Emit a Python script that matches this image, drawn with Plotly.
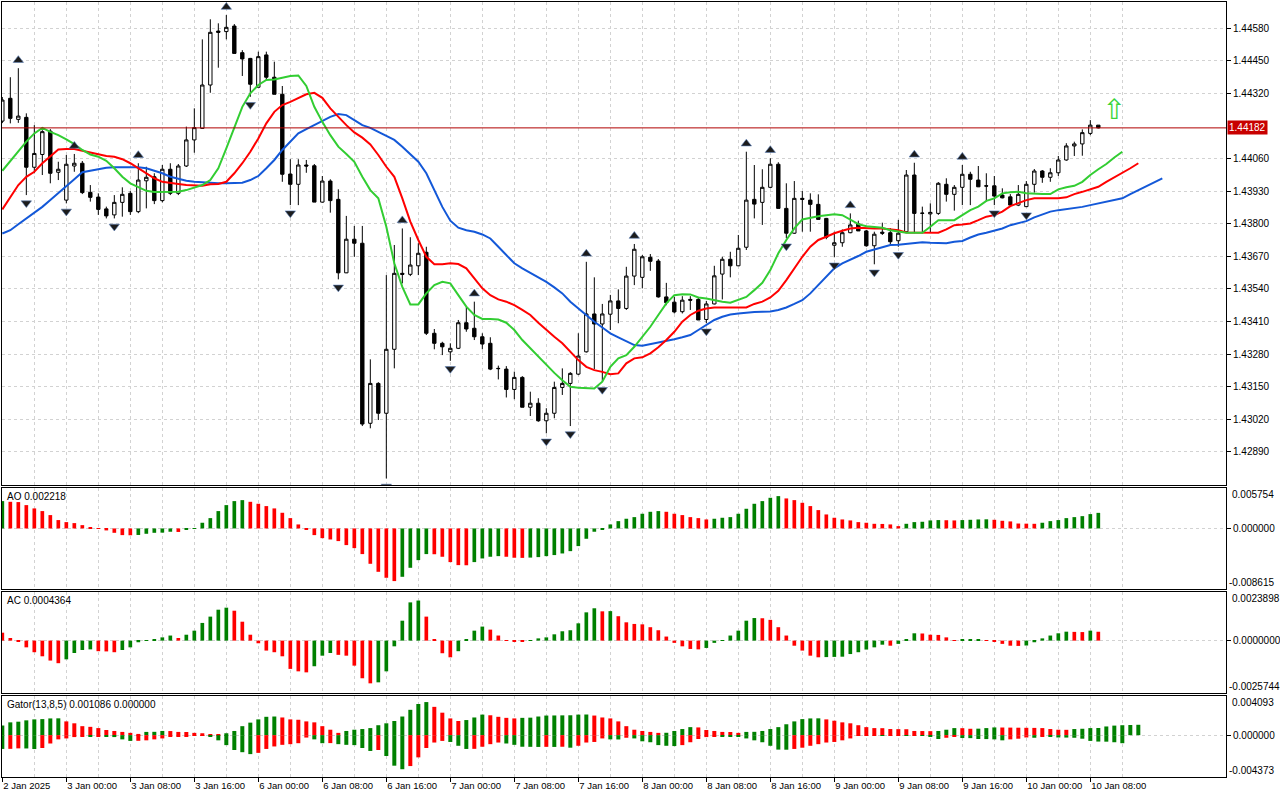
"""H1 chart with Bill Williams indicators: Alligator, Fractals, AO, AC, Gator.

One figure, four stacked panels sharing the bar axis.
    - candles + Alligator (jaw / teeth / lips) + fractal marks
    - Awesome Oscillator histogram
    - Accelerator Oscillator histogram
    - Gator oscillator (two-sided histogram)
"""
import plotly.graph_objects as go
from plotly.subplots import make_subplots

# ---- candles (bar index = position on the chart)
OPEN = [
    1.44209, 1.44300, 1.44216, 1.44224, 1.44025, 1.44076, 1.44169, 1.44005, 1.43894, 1.44030,
    1.44041, 1.43925, 1.43906, 1.43859, 1.43835, 1.43885, 1.43921, 1.43848, 1.43971, 1.43987,
    1.43892, 1.44017, 1.43921, 1.44030, 1.44134, 1.44180, 1.44353, 1.44568, 1.44566, 1.44588,
    1.44482, 1.44459, 1.44344, 1.44473, 1.44384, 1.44316, 1.43998, 1.43957, 1.44034, 1.44031,
    1.43886, 1.43970, 1.43897, 1.43604, 1.43738, 1.43722, 1.43004, 1.43163, 1.43044, 1.43299,
    1.43602, 1.43598, 1.43632, 1.43686, 1.43363, 1.43323, 1.43289, 1.43303, 1.43405, 1.43383,
    1.43349, 1.43323, 1.43223, 1.43220, 1.43139, 1.43187, 1.43068, 1.43084, 1.43014, 1.43044,
    1.43147, 1.43163, 1.43200, 1.43289, 1.43440, 1.43400, 1.43439, 1.43492, 1.43462, 1.43591,
    1.43586, 1.43666, 1.43651, 1.43508, 1.43487, 1.43449, 1.43498, 1.43498, 1.43418, 1.43480,
    1.43599, 1.43658, 1.43632, 1.43706, 1.43897, 1.43885, 1.43945, 1.44037, 1.43861, 1.43762,
    1.43901, 1.43894, 1.43877, 1.43821, 1.43714, 1.43724, 1.43764, 1.43799, 1.43771, 1.43712,
    1.43766, 1.43764, 1.43732, 1.43768, 1.43994, 1.43841, 1.43839, 1.43841, 1.43957, 1.43917,
    1.43945, 1.43997, 1.43974, 1.43951, 1.43951, 1.43914, 1.43907, 1.43874, 1.43868, 1.43957,
    1.44010, 1.43985, 1.44003, 1.44054, 1.44110, 1.44118, 1.44160, 1.44193,
]
HIGH = [
    1.44305, 1.44384, 1.44420, 1.44240, 1.44193, 1.44173, 1.44177, 1.44047, 1.44074, 1.44078,
    1.44050, 1.43954, 1.43921, 1.43868, 1.43914, 1.43945, 1.43930, 1.44041, 1.44027, 1.44001,
    1.44034, 1.44041, 1.44038, 1.44187, 1.44260, 1.44535, 1.44615, 1.44599, 1.44632, 1.44596,
    1.44492, 1.44461, 1.44486, 1.44486, 1.44446, 1.44349, 1.44057, 1.44057, 1.44054, 1.44038,
    1.43990, 1.43977, 1.43937, 1.43831, 1.43791, 1.43791, 1.43259, 1.43168, 1.43595, 1.43715,
    1.43781, 1.43746, 1.43722, 1.43708, 1.43380, 1.43329, 1.43323, 1.43416, 1.43469, 1.43489,
    1.43363, 1.43347, 1.43234, 1.43232, 1.43210, 1.43192, 1.43130, 1.43104, 1.43064, 1.43170,
    1.43223, 1.43208, 1.43363, 1.43648, 1.43586, 1.43480, 1.43516, 1.43538, 1.43628, 1.43719,
    1.43675, 1.43679, 1.43659, 1.43564, 1.43508, 1.43511, 1.43511, 1.43508, 1.43492, 1.43632,
    1.43668, 1.43688, 1.43755, 1.44087, 1.44034, 1.44017, 1.44061, 1.44045, 1.43961, 1.43970,
    1.43930, 1.43921, 1.43917, 1.43823, 1.43768, 1.43777, 1.43841, 1.43812, 1.43775, 1.43768,
    1.43804, 1.43782, 1.43815, 1.44014, 1.44043, 1.43868, 1.43881, 1.43966, 1.43981, 1.43954,
    1.44034, 1.44007, 1.44030, 1.44001, 1.43990, 1.43941, 1.43918, 1.43954, 1.43970, 1.44018,
    1.44014, 1.44021, 1.44070, 1.44121, 1.44127, 1.44176, 1.44213, 1.44193,
]
LOW = [
    1.44201, 1.44200, 1.44202, 1.43914, 1.44001, 1.43994, 1.43961, 1.43974, 1.43881, 1.44007,
    1.43918, 1.43888, 1.43835, 1.43821, 1.43821, 1.43828, 1.43835, 1.43842, 1.43861, 1.43878,
    1.43885, 1.43914, 1.43914, 1.44026, 1.44083, 1.44178, 1.44322, 1.44422, 1.44535, 1.44479,
    1.44389, 1.44306, 1.44344, 1.44373, 1.44316, 1.43967, 1.43874, 1.43874, 1.44003, 1.43886,
    1.43884, 1.43844, 1.43578, 1.43603, 1.43668, 1.42993, 1.42984, 1.43017, 1.42784, 1.43223,
    1.43562, 1.43591, 1.43595, 1.43356, 1.43299, 1.43276, 1.43253, 1.43300, 1.43369, 1.43336,
    1.43299, 1.43216, 1.43179, 1.43107, 1.43100, 1.43068, 1.43033, 1.43010, 1.42964, 1.43024,
    1.43117, 1.42993, 1.43196, 1.43286, 1.43220, 1.43170, 1.43376, 1.43403, 1.43456, 1.43555,
    1.43542, 1.43612, 1.43505, 1.43475, 1.43442, 1.43442, 1.43456, 1.43416, 1.43403, 1.43478,
    1.43498, 1.43586, 1.43631, 1.43695, 1.43821, 1.43795, 1.43942, 1.43861, 1.43742, 1.43759,
    1.43768, 1.43768, 1.43817, 1.43738, 1.43666, 1.43708, 1.43762, 1.43771, 1.43708, 1.43638,
    1.43755, 1.43715, 1.43708, 1.43767, 1.43762, 1.43762, 1.43763, 1.43835, 1.43888, 1.43852,
    1.43874, 1.43874, 1.43946, 1.43888, 1.43874, 1.43901, 1.43870, 1.43870, 1.43866, 1.43924,
    1.43963, 1.43967, 1.43990, 1.44051, 1.44070, 1.44071, 1.44153, 1.44180,
]
CLOSE = [
    1.44293, 1.44220, 1.44229, 1.44025, 1.44080, 1.44167, 1.44001, 1.44017, 1.44037, 1.44041,
    1.43924, 1.43905, 1.43857, 1.43831, 1.43885, 1.43917, 1.43848, 1.43974, 1.43985, 1.43892,
    1.44017, 1.43921, 1.44030, 1.44134, 1.44183, 1.44353, 1.44563, 1.44563, 1.44583, 1.44479,
    1.44457, 1.44356, 1.44466, 1.44384, 1.44316, 1.43997, 1.43957, 1.44034, 1.44030, 1.43886,
    1.43970, 1.43892, 1.43604, 1.43738, 1.43722, 1.43001, 1.43163, 1.43044, 1.43299, 1.43602,
    1.43598, 1.43635, 1.43682, 1.43363, 1.43323, 1.43309, 1.43303, 1.43405, 1.43380, 1.43349,
    1.43320, 1.43220, 1.43222, 1.43139, 1.43187, 1.43068, 1.43084, 1.43014, 1.43044, 1.43147,
    1.43163, 1.43203, 1.43272, 1.43440, 1.43400, 1.43440, 1.43492, 1.43462, 1.43591, 1.43698,
    1.43668, 1.43650, 1.43508, 1.43485, 1.43448, 1.43495, 1.43495, 1.43416, 1.43480, 1.43592,
    1.43658, 1.43632, 1.43702, 1.43894, 1.43878, 1.43945, 1.44037, 1.43861, 1.43762, 1.43901,
    1.43897, 1.43877, 1.43817, 1.43746, 1.43724, 1.43764, 1.43795, 1.43771, 1.43712, 1.43758,
    1.43762, 1.43728, 1.43762, 1.43994, 1.43841, 1.43842, 1.43845, 1.43961, 1.43917, 1.43945,
    1.43997, 1.43977, 1.43947, 1.43950, 1.43910, 1.43903, 1.43874, 1.43917, 1.43957, 1.44010,
    1.43985, 1.44003, 1.44054, 1.44110, 1.44118, 1.44163, 1.44193, 1.44182,
]

# ---- Alligator lines, already shifted forward (lips +3, teeth +5, jaw +8 bars)
LIPS = [
    1.44011, 1.44050, 1.44087, 1.44127, 1.44160, 1.44182, 1.44166, 1.44153, 1.44136, 1.44117,
    1.44094, 1.44076, 1.44067, 1.44051, 1.44021, 1.43987, 1.43961, 1.43945, 1.43931, 1.43926,
    1.43926, 1.43927, 1.43927, 1.43934, 1.43945, 1.43954, 1.43974, 1.44021, 1.44100, 1.44186,
    1.44266, 1.44320, 1.44353, 1.44373, 1.44375, 1.44382, 1.44389, 1.44391, 1.44349, 1.44266,
    1.44206, 1.44153, 1.44107, 1.44078, 1.44047, 1.43987, 1.43934, 1.43901, 1.43788, 1.43642,
    1.43548, 1.43478, 1.43478, 1.43522, 1.43555, 1.43568, 1.43562, 1.43515, 1.43469, 1.43436,
    1.43420, 1.43420, 1.43418, 1.43405, 1.43376, 1.43336, 1.43303, 1.43269, 1.43236, 1.43205,
    1.43176, 1.43150, 1.43146, 1.43146, 1.43143, 1.43170, 1.43229, 1.43263, 1.43276, 1.43309,
    1.43347, 1.43389, 1.43436, 1.43482, 1.43515, 1.43519, 1.43518, 1.43506, 1.43502, 1.43495,
    1.43489, 1.43485, 1.43495, 1.43508, 1.43535, 1.43564, 1.43615, 1.43682, 1.43735, 1.43781,
    1.43817, 1.43825, 1.43830, 1.43834, 1.43838, 1.43834, 1.43817, 1.43798, 1.43790, 1.43788,
    1.43784, 1.43774, 1.43768, 1.43764, 1.43764, 1.43764, 1.43788, 1.43814, 1.43814, 1.43814,
    1.43834, 1.43854, 1.43868, 1.43891, 1.43901, 1.43921, 1.43925, 1.43927, 1.43921, 1.43918,
    1.43918, 1.43918, 1.43937, 1.43945, 1.43951, 1.43967, 1.43994, 1.44017, 1.44038, 1.44064,
    1.44087,
]
TEETH = [
    1.43857, 1.43907, 1.43954, 1.43987, 1.44007, 1.44041, 1.44070, 1.44096, 1.44098, 1.44098,
    1.44091, 1.44084, 1.44078, 1.44070, 1.44067, 1.44057, 1.44041, 1.44021, 1.44001, 1.43981,
    1.43967, 1.43961, 1.43958, 1.43954, 1.43951, 1.43951, 1.43957, 1.43958, 1.43967, 1.44001,
    1.44041, 1.44087, 1.44140, 1.44200, 1.44246, 1.44273, 1.44286, 1.44300, 1.44316, 1.44322,
    1.44302, 1.44260, 1.44226, 1.44193, 1.44164, 1.44143, 1.44116, 1.44074, 1.44027, 1.43987,
    1.43901, 1.43808, 1.43735, 1.43668, 1.43638, 1.43638, 1.43642, 1.43639, 1.43622, 1.43582,
    1.43542, 1.43515, 1.43498, 1.43489, 1.43475, 1.43456, 1.43436, 1.43405, 1.43376, 1.43349,
    1.43323, 1.43289, 1.43256, 1.43229, 1.43216, 1.43209, 1.43200, 1.43203, 1.43243, 1.43263,
    1.43267, 1.43283, 1.43307, 1.43336, 1.43369, 1.43409, 1.43436, 1.43453, 1.43462, 1.43466,
    1.43466, 1.43467, 1.43466, 1.43466, 1.43480, 1.43489, 1.43506, 1.43532, 1.43575, 1.43622,
    1.43668, 1.43708, 1.43735, 1.43748, 1.43762, 1.43772, 1.43781, 1.43784, 1.43781, 1.43781,
    1.43781, 1.43777, 1.43774, 1.43765, 1.43764, 1.43764, 1.43764, 1.43764, 1.43777, 1.43794,
    1.43797, 1.43801, 1.43814, 1.43828, 1.43834, 1.43848, 1.43870, 1.43883, 1.43894, 1.43901,
    1.43901, 1.43901, 1.43901, 1.43905, 1.43918, 1.43927, 1.43937, 1.43947, 1.43967, 1.43985,
    1.44001, 1.44021, 1.44041,
]
JAW = [
    1.43761, 1.43774, 1.43798, 1.43821, 1.43843, 1.43867, 1.43894, 1.43921, 1.43947, 1.43977,
    1.44005, 1.44011, 1.44018, 1.44023, 1.44025, 1.44025, 1.44025, 1.44025, 1.44021, 1.44011,
    1.44001, 1.43987, 1.43978, 1.43971, 1.43967, 1.43965, 1.43961, 1.43961, 1.43961, 1.43962,
    1.43963, 1.43974, 1.43990, 1.44021, 1.44054, 1.44094, 1.44127, 1.44160, 1.44177, 1.44193,
    1.44210, 1.44226, 1.44237, 1.44233, 1.44213, 1.44193, 1.44182, 1.44166, 1.44147, 1.44134,
    1.44107, 1.44078, 1.44047, 1.44001, 1.43934, 1.43867, 1.43812, 1.43784, 1.43774, 1.43768,
    1.43757, 1.43741, 1.43708, 1.43675, 1.43642, 1.43622, 1.43604, 1.43588, 1.43568, 1.43546,
    1.43522, 1.43489, 1.43462, 1.43436, 1.43409, 1.43386, 1.43363, 1.43347, 1.43333, 1.43316,
    1.43313, 1.43319, 1.43327, 1.43332, 1.43339, 1.43347, 1.43356, 1.43376, 1.43396, 1.43416,
    1.43429, 1.43438, 1.43442, 1.43446, 1.43448, 1.43449, 1.43450, 1.43456, 1.43466, 1.43480,
    1.43495, 1.43522, 1.43555, 1.43588, 1.43622, 1.43642, 1.43655, 1.43671, 1.43688, 1.43698,
    1.43708, 1.43715, 1.43716, 1.43719, 1.43722, 1.43726, 1.43724, 1.43722, 1.43722, 1.43728,
    1.43731, 1.43745, 1.43757, 1.43764, 1.43772, 1.43781, 1.43794, 1.43801, 1.43810, 1.43825,
    1.43837, 1.43848, 1.43854, 1.43858, 1.43861, 1.43867, 1.43874, 1.43881, 1.43888, 1.43894,
    1.43901, 1.43918, 1.43934, 1.43947, 1.43963, 1.43981,
]

# ---- fractal bars
FRACTAL_UP = [2, 9, 17, 28, 50, 59, 73, 79, 93, 96, 106, 114, 120]
FRACTAL_DOWN = [3, 8, 14, 31, 36, 42, 48, 56, 68, 71, 75, 88, 98, 104, 109, 112, 124, 128]

# ---- signal arrow object
SIGNAL_BAR = 139
SIGNAL_PRICE = 1.44245

# ---- oscillators
AO = [
    0.00389, 0.00379, 0.00375, 0.00332, 0.00285, 0.00247, 0.00190, 0.00119, 0.00090, 0.00076,
    0.00047, 0.00019, 0.00005, -0.00028, -0.00062, -0.00095, -0.00097, -0.00093, -0.00076, -0.00062,
    -0.00060, -0.00047, -0.00050, -0.00014, -0.00005, 0.00081, 0.00147, 0.00247, 0.00332, 0.00389,
    0.00403, 0.00379, 0.00351, 0.00318, 0.00285, 0.00223, 0.00147, 0.00057, -0.00019, -0.00095,
    -0.00138, -0.00157, -0.00180, -0.00237, -0.00280, -0.00365, -0.00503, -0.00617, -0.00702, -0.00749,
    -0.00688, -0.00560, -0.00451, -0.00365, -0.00367, -0.00403, -0.00479, -0.00522, -0.00524, -0.00479,
    -0.00427, -0.00403, -0.00394, -0.00403, -0.00417, -0.00419, -0.00415, -0.00408, -0.00394, -0.00379,
    -0.00356, -0.00323, -0.00251, -0.00147, -0.00047, -0.00010, 0.00057, 0.00104, 0.00138, 0.00161,
    0.00209, 0.00237, 0.00247, 0.00237, 0.00209, 0.00190, 0.00161, 0.00147, 0.00128, 0.00138,
    0.00152, 0.00161, 0.00209, 0.00280, 0.00351, 0.00389, 0.00436, 0.00460, 0.00427, 0.00403,
    0.00365, 0.00318, 0.00261, 0.00199, 0.00152, 0.00128, 0.00114, 0.00090, 0.00081, 0.00066,
    0.00064, 0.00057, 0.00033, 0.00066, 0.00090, 0.00095, 0.00114, 0.00119, 0.00117, 0.00114,
    0.00119, 0.00123, 0.00128, 0.00130, 0.00123, 0.00109, 0.00100, 0.00070, 0.00068, 0.00066,
    0.00081, 0.00104, 0.00119, 0.00147, 0.00161, 0.00175, 0.00204, 0.002218,
]
AC = [
    0.00039, 0.00013, -0.00003, -0.00033, -0.00057, -0.00077, -0.00098, -0.00111, -0.00092, -0.00061,
    -0.00046, -0.00043, -0.00052, -0.00053, -0.00057, -0.00046, -0.00033, -0.00008, 0.00003, 0.00008,
    0.00016, 0.00025, 0.00013, 0.00029, 0.00049, 0.00087, 0.00118, 0.00152, 0.00162, 0.00147,
    0.00093, 0.00029, -0.00013, -0.00049, -0.00057, -0.00077, -0.00139, -0.00151, -0.00156, -0.00126,
    -0.00074, -0.00061, -0.00070, -0.00074, -0.00123, -0.00185, -0.00210, -0.00205, -0.00151, -0.00028,
    0.00098, 0.00188, 0.00197, 0.00118, 0.00008, -0.00062, -0.00082, -0.00052, 0.00008, 0.00049,
    0.00069, 0.00054, 0.00025, 0.00003, -0.00002, -0.00005, 0.00002, 0.00011, 0.00016, 0.00031,
    0.00046, 0.00051, 0.00085, 0.00139, 0.00159, 0.00144, 0.00145, 0.00120, 0.00090, 0.00082,
    0.00080, 0.00066, 0.00051, 0.00020, -0.00011, -0.00028, -0.00041, -0.00043, -0.00036, -0.00011,
    0.00003, 0.00025, 0.00049, 0.00098, 0.00111, 0.00110, 0.00102, 0.00066, 0.00025, -0.00025,
    -0.00049, -0.00074, -0.00082, -0.00081, -0.00080, -0.00079, -0.00066, -0.00057, -0.00044, -0.00033,
    -0.00020, -0.00025, -0.00016, 0.00005, 0.00036, 0.00035, 0.00029, 0.00028, 0.00016, 0.00001,
    0.00005, 0.00006, 0.00008, 0.00001, -0.00003, -0.00016, -0.00025, -0.00026, -0.00024, -0.00008,
    0.00011, 0.00025, 0.00036, 0.00044, 0.00043, 0.00042, 0.00049, 0.0004364,
]
GATOR_UP = [
    0.00101, 0.00134, 0.00141, 0.00155, 0.00165, 0.00168, 0.00175, 0.00176, 0.00144, 0.00124,
    0.00094, 0.00087, 0.00074, 0.00054, 0.00044, 0.00034, 0.00024, 0.00013, 0.00034, 0.00035,
    0.00044, 0.00043, 0.00034, 0.00033, 0.00024, 0.00020, 0.00010, 0.00009, 0.00020, 0.00044,
    0.00094, 0.00131, 0.00165, 0.00192, 0.00195, 0.00185, 0.00165, 0.00161, 0.00144, 0.00134,
    0.00094, 0.00057, 0.00024, 0.00044, 0.00057, 0.00064, 0.00074, 0.00104, 0.00124, 0.00148,
    0.00195, 0.00265, 0.00326, 0.00346, 0.00296, 0.00235, 0.00175, 0.00148, 0.00158, 0.00185,
    0.00215, 0.00208, 0.00192, 0.00181, 0.00175, 0.00181, 0.00183, 0.00195, 0.00205, 0.00206,
    0.00207, 0.00208, 0.00215, 0.00216, 0.00205, 0.00185, 0.00175, 0.00144, 0.00094, 0.00057,
    0.00044, 0.00034, 0.00024, 0.00025, 0.00044, 0.00064, 0.00084, 0.00081, 0.00054, 0.00044,
    0.00034, 0.00033, 0.00024, 0.00034, 0.00035, 0.00044, 0.00064, 0.00084, 0.00114, 0.00144,
    0.00168, 0.00175, 0.00176, 0.00165, 0.00151, 0.00134, 0.00124, 0.00104, 0.00084, 0.00074,
    0.00073, 0.00064, 0.00063, 0.00062, 0.00044, 0.00043, 0.00042, 0.00044, 0.00057, 0.00074,
    0.00073, 0.00067, 0.00068, 0.00074, 0.00081, 0.00080, 0.00079, 0.00078, 0.00077, 0.00076,
    0.00074, 0.00064, 0.00057, 0.00056, 0.00064, 0.00067, 0.00074, 0.00075, 0.00091, 0.00100,
    0.00104, 0.00106, 0.001086,
]
GATOR_DOWN = [
    -0.00144, -0.00143, -0.00138, -0.00139, -0.00145, -0.00134, -0.00087, -0.00044, -0.00034, -0.00020,
    -0.00013, -0.00015, -0.00010, -0.00012, -0.00020, -0.00044, -0.00060, -0.00059, -0.00054, -0.00044,
    -0.00034, -0.00017, -0.00010, -0.00009, -0.00008, -0.00007, -0.00013, -0.00054, -0.00104, -0.00155,
    -0.00178, -0.00198, -0.00185, -0.00144, -0.00118, -0.00101, -0.00094, -0.00084, -0.00025, -0.00044,
    -0.00084, -0.00083, -0.00094, -0.00101, -0.00104, -0.00134, -0.00165, -0.00155, -0.00218, -0.00319,
    -0.00356, -0.00323, -0.00232, -0.00134, -0.00077, -0.00060, -0.00071, -0.00111, -0.00144, -0.00143,
    -0.00121, -0.00094, -0.00077, -0.00087, -0.00101, -0.00121, -0.00122, -0.00123, -0.00122, -0.00123,
    -0.00121, -0.00131, -0.00111, -0.00077, -0.00071, -0.00034, -0.00044, -0.00045, -0.00027, -0.00034,
    -0.00064, -0.00074, -0.00104, -0.00111, -0.00114, -0.00104, -0.00074, -0.00040, -0.00020, -0.00013,
    -0.00014, -0.00015, -0.00016, -0.00034, -0.00054, -0.00074, -0.00111, -0.00151, -0.00152, -0.00144,
    -0.00131, -0.00111, -0.00094, -0.00077, -0.00071, -0.00054, -0.00034, -0.00003, -0.00002, -0.00001,
    -0.00003, -0.00002, -0.00001, -0.00002, -0.00001, -0.00002, -0.00013, -0.00040, -0.00027, -0.00017,
    -0.00030, -0.00031, -0.00040, -0.00041, -0.00044, -0.00054, -0.00044, -0.00037, -0.00024, -0.00027,
    -0.00017, -0.00018, -0.00024, -0.00025, -0.00027, -0.00037, -0.00060, -0.00067, -0.00068, -0.00074,
    -0.00084, 0.0, 0.0,
]

# ---- axes
PRICE_TICKS = [1.4458, 1.4445, 1.4432, 1.4406, 1.4393, 1.4380, 1.4367,
               1.4354, 1.4341, 1.4328, 1.4315, 1.4302, 1.4289]
PRICE_RANGE = [1.42758, 1.44684]
AO_RANGE = [-0.008615, 0.005754]
AC_RANGE = [-0.0025744, 0.0023898]
GATOR_RANGE = [-0.004373, 0.004093]
DATE_LABELS = [
    "2 Jan 2025", "3 Jan 00:00", "3 Jan 08:00", "3 Jan 16:00", "6 Jan 00:00",
    "6 Jan 08:00", "6 Jan 16:00", "7 Jan 00:00", "7 Jan 08:00", "7 Jan 16:00",
    "8 Jan 00:00", "8 Jan 08:00", "8 Jan 16:00", "9 Jan 00:00", "9 Jan 08:00",
    "9 Jan 16:00", "10 Jan 00:00", "10 Jan 08:00",
]
BARS_PER_LABEL = 8
X_RANGE = [-0.04, 152.96]

GREEN = "#008000"
RED = "#ff0000"
GRID = "#d2d2d2"
FONT = "Liberation Sans, Arial, sans-serif"


def _bar_colors(values, first_up, magnitude=False):
    """Green while the bar grows, red while it shrinks (MT histogram rule)."""
    colors, up = [], first_up
    for i, v in enumerate(values):
        if i:
            cur, prev = v, values[i - 1]
            if magnitude:
                cur, prev = abs(cur), abs(prev)
            if cur > prev:
                up = True
            elif cur < prev:
                up = False
        colors.append(GREEN if up else RED)
    return colors


def _add_price(fig: go.Figure) -> None:
    bars = list(range(len(CLOSE)))
    fig.add_trace(go.Candlestick(
        x=bars, open=OPEN, high=HIGH, low=LOW, close=CLOSE,
        increasing=dict(line=dict(color="black", width=1), fillcolor="white"),
        decreasing=dict(line=dict(color="black", width=1), fillcolor="black"),
        whiskerwidth=0, hoverinfo="skip",
    ), row=1, col=1)
    for values, color in ((JAW, "#1358d8"), (TEETH, "#ff0000"), (LIPS, "#32cd32")):
        fig.add_trace(go.Scatter(
            x=list(range(len(values))), y=values, mode="lines",
            line=dict(color=color, width=2), hoverinfo="skip",
        ), row=1, col=1)

    pad = 0.00032
    fig.add_trace(go.Scatter(
        x=FRACTAL_UP, y=[HIGH[i] + pad for i in FRACTAL_UP], mode="markers",
        marker=dict(symbol="triangle-up", size=9, color="#1c1c1c",
                    line=dict(color="#5a7fb8", width=0.6)),
        hoverinfo="skip",
    ), row=1, col=1)
    fig.add_trace(go.Scatter(
        x=FRACTAL_DOWN, y=[LOW[i] - pad for i in FRACTAL_DOWN], mode="markers",
        marker=dict(symbol="triangle-down", size=9, color="#1c1c1c",
                    line=dict(color="#5a7fb8", width=0.6)),
        hoverinfo="skip",
    ), row=1, col=1)

    fig.add_trace(go.Scatter(
        x=[SIGNAL_BAR], y=[SIGNAL_PRICE], mode="text", text=["\u21e7"],
        textfont=dict(size=28, color="#3ad43a", family="DejaVu Sans"),
        hoverinfo="skip",
    ), row=1, col=1)

    last = CLOSE[-1]
    fig.add_hline(y=last, line=dict(color="#b00000", width=1), row=1, col=1)
    fig.add_annotation(
        x=1, xref="paper", xanchor="left", xshift=1, y=last, yref="y",
        text=f"{last:.5f}", showarrow=False, bgcolor="#c80000",
        font=dict(color="white", size=10, family=FONT), borderpad=1,
    )


def _add_histogram(fig, row, values, colors, width=0.46):
    fig.add_trace(go.Bar(
        x=list(range(len(values))), y=values, width=width,
        marker=dict(color=colors, line=dict(width=0)), hoverinfo="skip",
    ), row=row, col=1)


def _panel_labels(fig, yname, title, vrange, decimals):
    dom = f"{yname} domain"
    fig.add_annotation(x=0, xref="paper", xanchor="left", xshift=3,
                       y=1, yref=dom, yanchor="top", yshift=-1,
                       text=title, showarrow=False, font=dict(size=10))
    fig.add_annotation(x=1, xref="paper", xanchor="left", xshift=4,
                       y=1, yref=dom, yanchor="top", yshift=1,
                       text=f"{vrange[1]:.{decimals}f}", showarrow=False,
                       font=dict(size=10))
    fig.add_annotation(x=1, xref="paper", xanchor="left", xshift=1,
                       y=0, yref=dom, yanchor="bottom", yshift=-1,
                       text=f"{vrange[0]:.{decimals}f}", showarrow=False,
                       font=dict(size=10))


def build() -> go.Figure:
    fig = make_subplots(rows=4, cols=1, shared_xaxes=True, vertical_spacing=0.004)
    _add_price(fig)

    _add_histogram(fig, 2, AO, _bar_colors(AO, True))
    _add_histogram(fig, 3, AC, _bar_colors(AC, False))
    _add_histogram(fig, 4, GATOR_UP, _bar_colors(GATOR_UP, True), width=0.5)
    _add_histogram(fig, 4, GATOR_DOWN,
                   _bar_colors(GATOR_DOWN, True, magnitude=True), width=0.5)

    _panel_labels(fig, "y2", f"AO {AO[-1]:.6f}", AO_RANGE, 6)
    _panel_labels(fig, "y3", f"AC {AC[-1]:.7f}", AC_RANGE, 7)
    _panel_labels(fig, "y4",
                  f"Gator(13,8,5) {GATOR_UP[-1]:.6f} {abs(GATOR_DOWN[-1]):.6f}",
                  GATOR_RANGE, 6)

    label_pos = [i * BARS_PER_LABEL for i in range(len(DATE_LABELS))]
    frame = dict(showline=True, mirror=True, linecolor="black", linewidth=1,
                 zeroline=False, automargin=False)
    fig.update_xaxes(
        range=X_RANGE, tickvals=label_pos, ticktext=DATE_LABELS, tickangle=0,
        showgrid=True, gridcolor=GRID, griddash="3px,3px", gridwidth=1,
        minor=dict(tickvals=[p + BARS_PER_LABEL // 2 for p in label_pos],
                   showgrid=True, gridcolor=GRID, griddash="3px,3px"),
        rangeslider_visible=False, **frame,
    )
    fig.update_xaxes(row=4, col=1, showticklabels=True, ticks="outside",
                     ticklen=4, tickcolor="black",
                     ticklabelposition="outside right",
                     tickfont=dict(size=9.5))

    yfmt = dict(side="right", ticks="outside", ticklen=4, tickcolor="black",
                showgrid=True, gridcolor=GRID, griddash="3px,3px",
                tickfont=dict(size=10), **frame)
    fig.update_layout(
        yaxis=dict(domain=[0.3768, 1.0], range=PRICE_RANGE, tickvals=PRICE_TICKS,
                   ticktext=[f"{p:.5f}" for p in PRICE_TICKS], **yfmt),
        yaxis2=dict(domain=[0.2426, 0.3729], range=AO_RANGE, tickvals=[0],
                    ticktext=[f"{0:.6f}"], **yfmt),
        yaxis3=dict(domain=[0.1084, 0.2387], range=AC_RANGE, tickvals=[0],
                    ticktext=[f"{0:.7f}"], **yfmt),
        yaxis4=dict(domain=[0.0, 0.1045], range=GATOR_RANGE, tickvals=[0],
                    ticktext=[f"{0:.6f}"], **yfmt),
        width=1280, height=800,
        margin=dict(l=2, r=54, t=2, b=23, autoexpand=False),
        paper_bgcolor="white", plot_bgcolor="white",
        showlegend=False, barmode="overlay", boxgap=0.4,
        font=dict(family=FONT, size=10, color="black"),
    )
    return fig


if __name__ == "__main__":
    # page body has an 8px default margin; drop it so the figure sits at 0,0
    build().write_html("out.html", config={"displayModeBar": False},
                       post_script="document.body.style.margin='0';")
